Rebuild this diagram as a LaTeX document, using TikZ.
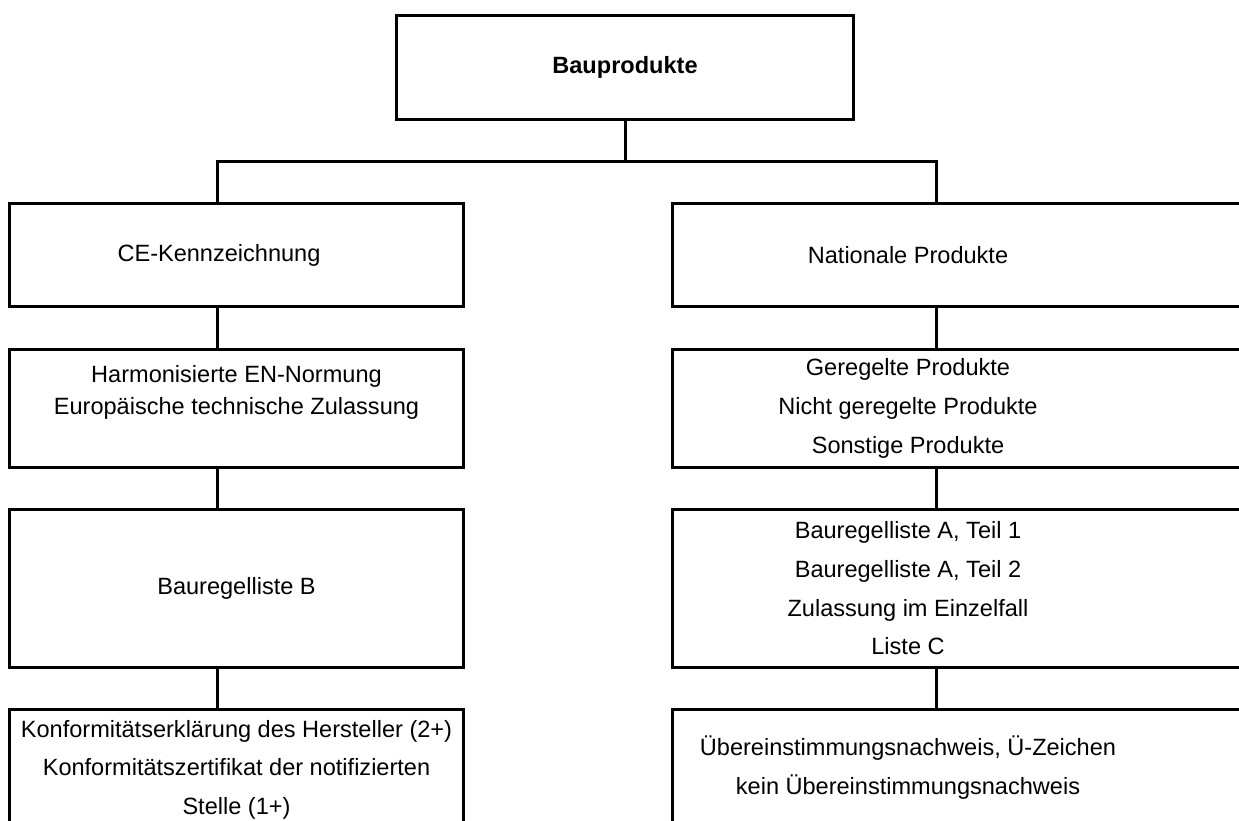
\documentclass[tikz,border=0pt]{standalone}
\usepackage{fontspec}
\setmainfont{Liberation Sans}
\usetikzlibrary{positioning}

\begin{document}
\begin{tikzpicture}[
  node distance=0.79cm,
  line width=0.06cm,
  every node/.style={font=\fontsize{13.4}{22}\selectfont},
  box/.style={rectangle, draw, inner sep=0pt},
  lbox/.style={box, minimum width=9.06cm},
  rbox/.style={box, minimum width=11.55cm},
  txt/.style={align=center, inner sep=0pt}
]
  \useasboundingbox (0,0) rectangle (24.78,-16.4);

  % top
  \node[box, minimum width=9.14cm, minimum height=2.09cm] (bau) at (12.5,-1.355) {};
  \node[txt, font=\fontsize{13.4}{22}\selectfont\bfseries] (bau-t) at (bau.center) {Bauprodukte};

  % left column
  \node[lbox, minimum height=2.07cm] (ce) at (4.73,-5.10) {};
  \node[lbox, minimum height=2.36cm, below=of ce] (harm) {};
  \node[lbox, minimum height=3.15cm, below=of harm] (brlb) {};
  \node[lbox, minimum height=2.6cm, below=of brlb] (konf) {};

  % right column
  \node[rbox, minimum height=2.07cm] (nat) at (19.22,-5.10) {};
  \node[rbox, minimum height=2.36cm, below=of nat] (geregelt) {};
  \node[rbox, minimum height=3.15cm, below=of geregelt] (brla) {};
  \node[rbox, minimum height=2.6cm, below=of brla] (ueber) {};

  % texts
  \node[txt] (ce-t) at ([xshift=-0.35cm]ce.center) {CE-Kennzeichnung};
  \node[txt, font=\fontsize{13.4}{18.2}\selectfont] (harm-t) at ([yshift=0.32cm]harm.center)
        {Harmonisierte EN-Normung\\Europäische technische Zulassung};
  \node[txt] (brlb-t) at (brlb.center) {Bauregelliste B};
  \node[txt] (konf-t) at ([yshift=0.1cm]konf.center)
        {Konformitätserklärung des Hersteller (2+)\\Konformitätszertifikat der notifizierten\\Stelle (1+)};
  \node[txt] (nat-t) at ([xshift=-1.06cm]nat.center) {Nationale Produkte};
  \node[txt] (geregelt-t) at ([xshift=-1.06cm]geregelt.center)
        {Geregelte Produkte\\Nicht geregelte Produkte\\Sonstige Produkte};
  \node[txt] (brla-t) at ([xshift=-1.06cm]brla.center)
        {Bauregelliste A, Teil 1\\Bauregelliste A, Teil 2\\Zulassung im Einzelfall\\Liste C};
  \node[txt] (ueber-t) at ([xshift=-1.06cm, yshift=0.15cm]ueber.center)
        {Übereinstimmungsnachweis, Ü-Zeichen\\kein Übereinstimmungsnachweis};

  % connectors
  \coordinate (jl) at (4.34,-3.24);
  \coordinate (jr) at (18.72,-3.24);
  \draw (bau.south) -- (bau.south |- jl);
  \draw (ce.north -| jl) |- (jr) -- (nat.north -| jr);
  \foreach \a/\b in {ce/harm, harm/brlb, brlb/konf}
    \draw (\a.south -| jl) -- (\b.north -| jl);
  \foreach \a/\b in {nat/geregelt, geregelt/brla, brla/ueber}
    \draw (\a.south -| jr) -- (\b.north -| jr);
\end{tikzpicture}
\end{document}
